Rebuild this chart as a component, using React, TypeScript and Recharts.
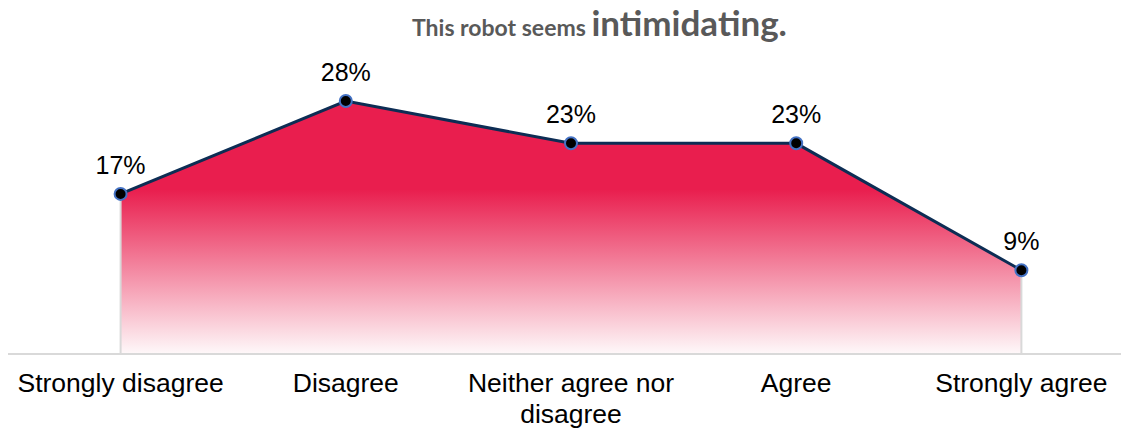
import React from "react";
import { AreaChart, Area, XAxis, YAxis, LabelList, ReferenceLine } from "recharts";

const categories = ["Strongly disagree", "Disagree", "Neither agree nor disagree", "Agree", "Strongly agree"];
const values = [17.4, 27.5, 22.9, 22.9, 9.1];
const valueLabels = ["17%", "28%", "23%", "23%", "9%"];

const data = categories.map((c, i) => ({ category: c, value: values[i], label: valueLabels[i] }));

const FONT = "'Liberation Sans', Arial, sans-serif";
const MAX_CHARS = 18;

function wrap(text: string): string[] {
  const words = text.split(" ");
  const lines: string[] = [];
  let cur = "";
  for (const w of words) {
    const next = cur ? cur + " " + w : w;
    if (next.length > MAX_CHARS && cur) {
      lines.push(cur);
      cur = w;
    } else {
      cur = next;
    }
  }
  if (cur) lines.push(cur);
  return lines;
}

const Tick = (props: any) => {
  const { x, y, payload } = props;
  const lines = wrap(String(payload.value));
  return (
    <text x={x} y={y} textAnchor="middle" fontSize={26.5} fontFamily={FONT} fill="#000">
      {lines.map((l, i) => (
        <tspan key={i} x={x} dy={i === 0 ? 38 : 31}>
          {l}
        </tspan>
      ))}
    </text>
  );
};

export default function App() {
  const first = data[0];
  const last = data[data.length - 1];
  return (
    <div style={{ position: "relative", width: 1121, height: 422 }}>
      <div style={{ position: "absolute", top: 0, left: 0, width: 1121, height: 422, overflow: "hidden", background: "#fff" }}>
        <AreaChart width={1126} height={422} data={data} margin={{ top: 70, right: 0, left: 0, bottom: 0 }}>
          <defs>
            <linearGradient id="areaGrad" x1="0" y1="0" x2="0" y2="1">
              <stop offset="0" stopColor="#E91E4E" stopOpacity={1} />
              <stop offset="0.35" stopColor="#E91E4E" stopOpacity={1} />
              <stop offset="1" stopColor="#E91E4E" stopOpacity={0.03} />
            </linearGradient>
          </defs>
          <XAxis
            dataKey="category"
            type="category"
            interval={0}
            height={76}
            padding={{ left: 112.6, right: 112.6 }}
            axisLine={{ stroke: "#d9d9d9", strokeWidth: 2 }}
            tickLine={false}
            tickSize={0}
            tickMargin={0}
            tick={<Tick />}
          />
          <YAxis hide domain={[0, 30]} />
          <ReferenceLine
            segment={[{ x: first.category, y: 0 }, { x: first.category, y: first.value }]}
            stroke="#d9d9d9"
            strokeWidth={2}
          />
          <ReferenceLine
            segment={[{ x: last.category, y: 0 }, { x: last.category, y: last.value }]}
            stroke="#d9d9d9"
            strokeWidth={2}
          />
          <Area
            type="linear"
            dataKey="value"
            stroke="#0D2D54"
            strokeWidth={3}
            fill="url(#areaGrad)"
            fillOpacity={1}
            dot={{ r: 6, fill: "#000", stroke: "#4472C4", strokeWidth: 2 }}
            activeDot={false}
            isAnimationActive={false}
          >
            <LabelList
              dataKey="label"
              position="top"
              offset={20}
              fontSize={25}
              fontFamily={FONT}
              fill="#000"
            />
          </Area>
        </AreaChart>
      </div>
      <div
        style={{
          position: "absolute",
          top: -8,
          left: 404,
          whiteSpace: "nowrap",
          fontFamily: "Lato, 'Open Sans', sans-serif",
          fontWeight: 700,
          color: "#595959",
          lineHeight: "44px",
        }}
      >
        <span style={{ fontSize: 23 }}>This robot seems </span>
        <span style={{ fontSize: 35 }}>intimidating.</span>
      </div>
    </div>
  );
}
